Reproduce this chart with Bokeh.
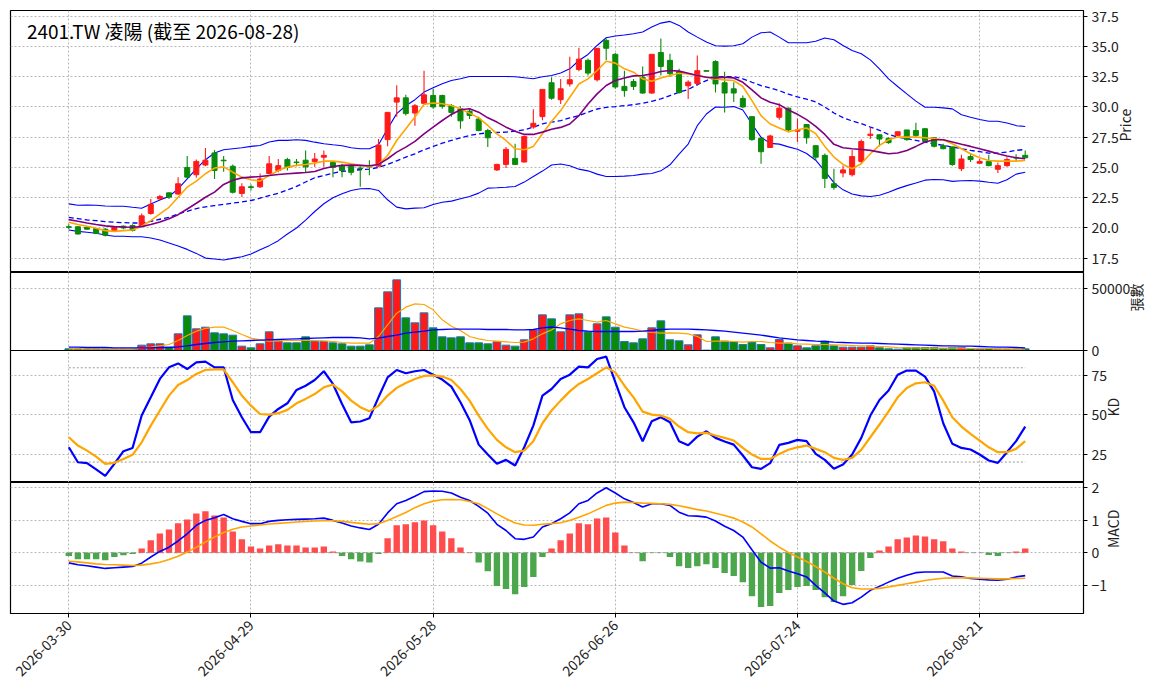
import math
from bokeh.plotting import figure
from bokeh.layouts import column
from bokeh.models import ColumnDataSource, FixedTicker, PrintfTickFormatter, Label, Range1d
from bokeh.embed import file_html
from bokeh.resources import INLINE

TITLE = "2401.TW 凌陽 (截至 2026-08-28)"
tick_pos = [0, 20, 40, 60, 80, 100]
tick_labels = ["2026-03-30", "2026-04-29", "2026-05-28", "2026-06-26", "2026-07-24", "2026-08-21"]

open_ = [20.1, 20.1, 20.05, 19.95, 19.9, 19.8, 20.15, 20.2, 20.15, 21.2,
         22.4, 22.9, 22.8, 25.0, 24.4, 25.2, 26.2, 25.6, 25.1, 22.85,
         23.4, 23.4, 24.5, 24.75, 25.65, 25.45, 25.6, 25.5, 25.85, 25.4,
         25.1, 25.1, 24.95, 25.1, 25.1, 27.3, 30.4, 30.75, 29.5, 30.3,
         30.95, 30.95, 30.1, 29.85, 29.65, 29.0, 28.05, 24.8, 25.25, 25.75,
         25.45, 28.35, 29.2, 32.0, 30.6, 31.9, 33.1, 33.85, 32.25, 35.5,
         34.35, 31.7, 32.1, 32.45, 31.15, 34.5, 33.85, 32.9, 31.75, 31.95,
         33.0, 33.75, 32.0, 31.5, 30.7, 29.2, 27.4, 26.65, 29.15, 29.9,
         28.0, 28.55, 26.8, 26.0, 23.65, 24.55, 24.4, 25.5, 27.65, 27.7,
         27.4, 27.65, 28.1, 28.05, 28.2, 27.45, 26.8, 26.7, 24.9, 25.9,
         25.35, 25.5, 24.85, 25.15, 25.82, 26.0]
high = [20.3, 20.15, 20.1, 20.0, 20.0, 20.1, 20.2, 20.3, 21.2, 22.4,
        22.75, 22.95, 24.2, 25.95, 25.65, 26.6, 26.45, 25.95, 25.25, 23.7,
        23.6, 24.5, 25.95, 25.7, 25.8, 25.7, 26.4, 26.2, 26.4, 25.5,
        25.3, 25.3, 25.1, 25.6, 27.35, 29.55, 31.8, 31.0, 30.25, 33.0,
        31.5, 31.0, 30.25, 30.05, 29.85, 29.2, 28.2, 25.3, 26.7, 26.95,
        27.65, 29.8, 31.45, 32.45, 32.3, 34.15, 34.9, 34.0, 34.85, 35.65,
        34.45, 33.0, 32.3, 33.35, 34.35, 35.65, 34.4, 33.15, 32.2, 34.25,
        33.0, 33.85, 32.9, 32.05, 30.95, 29.2, 27.5, 27.7, 30.3, 29.95,
        29.05, 28.6, 26.8, 26.15, 24.9, 25.15, 26.45, 27.3, 28.3, 27.75,
        27.5, 27.95, 28.1, 28.7, 28.25, 27.45, 26.95, 26.75, 26.05, 26.2,
        25.7, 26.05, 25.4, 25.85, 26.1, 26.4]
low = [19.9, 19.45, 19.85, 19.5, 19.3, 19.75, 19.9, 19.7, 20.1, 21.1,
       22.35, 22.4, 22.75, 24.1, 24.15, 25.1, 24.05, 24.65, 22.85, 22.55,
       23.1, 23.3, 24.45, 24.6, 24.75, 25.1, 24.6, 25.05, 25.05, 24.2,
       24.2, 24.35, 23.4, 24.35, 25.05, 26.75, 29.2, 29.3, 28.45, 30.25,
       29.85, 29.85, 29.2, 28.2, 29.0, 28.0, 26.7, 24.7, 24.95, 25.2,
       25.4, 28.2, 28.9, 30.6, 30.25, 31.7, 32.95, 32.6, 32.1, 33.85,
       31.5, 30.85, 31.4, 31.1, 31.1, 32.6, 32.5, 31.1, 30.65, 31.75,
       32.95, 31.2, 29.55, 30.4, 29.9, 27.2, 25.3, 26.6, 28.95, 27.9,
       27.1, 26.95, 25.6, 23.3, 23.15, 24.2, 24.25, 25.3, 27.35, 26.75,
       26.95, 27.6, 27.2, 27.5, 27.1, 26.65, 26.5, 25.15, 24.7, 25.45,
       25.3, 25.1, 24.55, 25.05, 25.5, 25.8]
close = [20.05, 19.5, 19.9, 19.55, 19.4, 20.05, 20.0, 19.8, 21.0, 21.95,
         22.6, 22.55, 23.65, 24.2, 25.5, 25.6, 24.75, 25.55, 22.95, 23.4,
         23.35, 24.05, 25.3, 25.15, 25.0, 25.4, 25.05, 25.7, 26.0, 25.0,
         24.75, 24.6, 24.9, 25.05, 26.85, 29.55, 30.75, 29.45, 30.1, 31.0,
         30.0, 30.05, 29.55, 28.85, 29.3, 28.05, 27.45, 25.25, 26.5, 25.25,
         27.55, 28.65, 31.45, 30.72, 31.5, 32.25, 33.95, 32.8, 34.85, 34.85,
         31.65, 31.35, 31.7, 31.15, 34.35, 33.35, 32.75, 31.2, 32.05, 33.0,
         32.95, 31.9, 31.15, 31.15, 30.0, 27.3, 26.3, 27.6, 29.9, 28.1,
         28.1, 27.45, 25.85, 24.1, 23.35, 24.8, 25.9, 27.15, 27.75, 27.35,
         27.05, 27.95, 27.3, 27.65, 27.2, 26.75, 26.55, 25.25, 25.7, 25.65,
         25.5, 25.15, 25.15, 25.65, 25.78, 25.8]
volume = [1350, 1350, 1080, 1080, 1080, 1080, 1080, 1080, 4320, 5400,
          5400, 2700, 13500, 28080, 17550, 18900, 14310, 13500, 12420, 3510,
          2160, 5400, 15120, 7560, 6210, 6210, 11070, 7560, 7290, 6210,
          5400, 3510, 3510, 4590, 34560, 47520, 57240, 26460, 22410, 30510,
          18360, 11070, 10260, 11070, 6210, 6210, 5400, 7020, 4320, 3510,
          8640, 16740, 28890, 25650, 15120, 28890, 29700, 15120, 21600, 27270,
          18900, 7290, 6210, 9450, 18360, 24030, 8640, 7830, 4590, 12690,
          300, 11070, 7560, 7020, 4860, 6480, 4860, 2160, 8910, 5940,
          3780, 2160, 3780, 7560, 3780, 2700, 2700, 2700, 3780, 2160,
          1350, 1080, 2160, 2430, 2430, 2430, 1620, 2430, 2430, 1620,
          1080, 1620, 1080, 1080, 1080, 1350]
ma5 = [20.47, 20.28, 20.14, 19.97, 19.78, 19.72, 19.78, 19.83, 20.14, 20.61,
       21.16, 21.71, 22.54, 23.37, 23.87, 24.48, 24.95, 25.05, 24.61, 24.2,
       23.98, 23.87, 24.34, 24.75, 25.03, 25.17, 25.25, 25.36, 25.52, 25.52,
       25.44, 25.3, 25.17, 25.08, 25.25, 25.99, 27.23, 28.2, 29.16, 30.21,
       30.32, 30.26, 30.12, 29.85, 29.49, 29.1, 28.47, 27.78, 27.23, 26.54,
       26.46, 26.74, 27.78, 28.8, 29.7, 30.8, 31.9, 32.32, 33.01, 33.78,
       33.62, 33.15, 32.87, 32.32, 32.13, 32.4, 32.6, 32.79, 32.73, 32.6,
       32.46, 32.32, 32.24, 32.18, 31.69, 30.52, 29.28, 28.59, 28.26, 27.95,
       28.12, 28.26, 27.79, 26.74, 25.86, 25.25, 24.89, 25.3, 26.13, 26.82,
       27.29, 27.51, 27.51, 27.51, 27.46, 27.38, 27.29, 26.96, 26.55, 26.13,
       25.8, 25.58, 25.52, 25.52, 25.52, 25.58]
ma10 = [20.69, 20.55, 20.41, 20.28, 20.17, 20.11, 20.08, 20.06, 20.11, 20.28,
        20.5, 20.77, 21.1, 21.57, 22.04, 22.54, 22.96, 23.6, 23.95, 24.14,
        24.2, 24.25, 24.34, 24.42, 24.48, 24.53, 24.58, 24.67, 24.92, 25.08,
        25.17, 25.19, 25.17, 25.14, 25.25, 25.72, 26.27, 26.68, 27.15, 27.78,
        28.33, 28.88, 29.38, 29.77, 29.85, 29.57, 29.1, 28.75, 28.33, 28.0,
        27.73, 27.73, 27.92, 28.15, 28.31, 28.59, 29.28, 30.25, 31.08, 31.77,
        32.18, 32.4, 32.57, 32.6, 32.73, 32.93, 33.01, 32.96, 32.79, 32.6,
        32.46, 32.4, 32.46, 32.4, 32.04, 31.41, 30.75, 30.39, 30.19, 29.75,
        29.39, 28.95, 28.4, 27.73, 26.91, 26.63, 26.55, 26.49, 26.41, 26.27,
        26.13, 26.19, 26.41, 26.74, 27.1, 27.29, 27.29, 27.1, 26.91, 26.74,
        26.55, 26.35, 26.13, 25.94, 25.8, 25.72]
bb_mid = [20.88, 20.77, 20.66, 20.61, 20.52, 20.47, 20.44, 20.41, 20.41, 20.55,
          20.72, 20.88, 21.16, 21.38, 21.6, 21.75, 21.85, 21.95, 22.05, 22.15,
          22.27, 22.46, 22.68, 22.87, 23.15, 23.43, 23.8, 24.15, 24.34, 24.53,
          24.67, 24.75, 24.81, 24.86, 25.0, 25.25, 25.55, 25.85, 26.13, 26.46,
          26.74, 27.01, 27.23, 27.45, 27.64, 27.78, 27.86, 27.89, 27.92, 28.0,
          28.11, 28.33, 28.61, 28.75, 28.87, 29.09, 29.28, 29.56, 29.83, 29.97,
          30.03, 30.11, 30.19, 30.3, 30.47, 30.66, 30.94, 31.22, 31.44, 31.85,
          32.18, 32.46, 32.51, 32.51, 32.32, 32.04, 31.77, 31.57, 31.35, 31.05,
          30.83, 30.64, 30.41, 30.0, 29.5, 29.12, 28.84, 28.62, 28.34, 28.07,
          27.73, 27.51, 27.38, 27.24, 27.1, 26.96, 26.82, 26.69, 26.55, 26.41,
          26.3, 26.19, 26.19, 26.27, 26.41, 26.49]
bb_up = [21.99, 21.88, 21.9, 21.88, 21.82, 21.8, 21.8, 21.71, 21.63, 21.99,
         22.32, 22.6, 23.23, 24.06, 24.89, 25.64, 26.19, 26.46, 26.55, 26.63,
         26.74, 26.82, 27.1, 27.24, 27.24, 27.29, 27.24, 27.09, 26.96, 26.87,
         26.79, 26.63, 26.54, 26.54, 26.87, 28.2, 29.45, 30.1, 30.6, 31.23,
         31.58, 31.91, 32.19, 32.33, 32.52, 32.52, 32.52, 32.52, 32.52, 32.49,
         32.41, 32.33, 32.5, 32.6, 32.8, 33.15, 33.84, 34.34, 35.08, 35.72,
         35.86, 35.94, 36.05, 36.19, 36.6, 36.93, 37.07, 36.74, 36.19, 35.77,
         35.36, 35.06, 35.03, 35.06, 35.22, 35.77, 36.13, 36.19, 35.77, 35.3,
         35.3, 35.3, 35.43, 35.7, 35.55, 35.08, 34.66, 34.39, 33.89, 33.15,
         32.32, 31.69, 31.08, 30.48, 29.98, 29.98, 29.92, 29.84, 29.35, 29.15,
         28.96, 28.82, 28.82, 28.68, 28.46, 28.38]
bb_low = [19.83, 19.72, 19.64, 19.56, 19.42, 19.31, 19.31, 19.28, 19.28, 19.17,
          19.0, 18.76, 18.51, 18.23, 17.9, 17.51, 17.43, 17.35, 17.49, 17.62,
          17.85, 18.2, 18.54, 18.95, 19.5, 20.0, 20.65, 21.36, 22.0, 22.49,
          22.82, 23.1, 23.24, 23.26, 23.1, 22.33, 21.72, 21.58, 21.64, 21.67,
          21.94, 22.13, 22.22, 22.41, 22.6, 22.88, 23.29, 23.32, 23.37, 23.43,
          23.79, 24.26, 24.7, 25.2, 25.28, 25.14, 24.86, 24.72, 24.45, 24.25,
          24.25, 24.28, 24.34, 24.45, 24.5, 24.72, 25.22, 26.1, 26.93, 28.45,
          29.42, 30.0, 29.97, 30.03, 29.75, 28.59, 27.49, 26.99, 26.93, 26.7,
          26.5, 26.15, 25.6, 24.7, 23.75, 23.15, 22.8, 22.65, 22.6, 22.7,
          22.95, 23.25, 23.5, 23.72, 23.95, 24.0, 23.98, 23.85, 23.9, 23.92,
          23.87, 23.78, 23.7, 23.98, 24.45, 24.61]
vol_ma5 = [1300, 1300, 1300, 1250, 1200, 1150, 1100, 1100, 2160, 2700,
           3780, 4860, 8100, 12150, 15660, 17820, 18900, 18900, 16200, 12960,
           9990, 8640, 7560, 7830, 8100, 8100, 8370, 8100, 7830, 7290,
           6480, 5940, 5940, 5940, 11340, 20790, 30240, 35100, 37800, 37260,
           32940, 24840, 19710, 16200, 11340, 9450, 8100, 7560, 7020, 6480,
           6750, 9450, 13500, 16700, 21600, 24300, 25650, 24300, 22950, 24300,
           21600, 18900, 17550, 15660, 14580, 14040, 14310, 14040, 13500, 11340,
           7290, 7560, 7560, 7290, 6750, 7290, 7290, 6480, 5940, 5940,
           5400, 5130, 4860, 4860, 4590, 4320, 4050, 3780, 3510, 3240,
           2970, 2430, 2160, 2160, 1890, 1890, 1890, 1890, 1890, 1620,
           1620, 1620, 1350, 1350, 1080, 1080]
vol_ma20 = [2700, 2700, 2430, 2430, 2430, 2160, 2160, 2160, 2160, 2160,
            2430, 2430, 2970, 3780, 4860, 5670, 6480, 7020, 7560, 7830,
            8100, 8370, 8640, 8910, 9180, 9450, 9720, 9990, 10260, 10530,
            10530, 10530, 10260, 9450, 9990, 11340, 12420, 14040, 14850, 15660,
            16740, 17010, 17280, 17280, 17280, 17280, 17010, 17010, 17010, 16740,
            16740, 17010, 18360, 19000, 18360, 17280, 16200, 15660, 15390, 15390,
            15390, 15390, 15390, 15660, 16200, 17010, 17280, 17280, 17280, 17010,
            16740, 16200, 15660, 14850, 14040, 13230, 12420, 11340, 10260, 9450,
            8640, 8100, 7560, 7290, 6750, 6480, 6210, 5940, 5940, 5670,
            5400, 5130, 4860, 4590, 4320, 4050, 3780, 3780, 3510, 3510,
            3240, 2970, 2700, 2700, 2430, 2160]
k_line = [29.4, 19.9, 19.3, 15.3, 11.2, 18.9, 26.9, 29.0, 49.6, 61.2,
          72.9, 80.3, 82.8, 79.2, 83.5, 83.9, 80.3, 80.3, 59.5, 48.5,
          39.0, 39.0, 48.9, 53.8, 57.4, 65.9, 68.6, 72.2, 77.8, 69.7,
          57.0, 45.3, 45.8, 47.9, 61.2, 73.9, 78.6, 76.5, 77.8, 78.6,
          75.6, 72.5, 68.0, 58.1, 46.8, 31.1, 24.8, 18.9, 21.4, 17.8,
          29.4, 43.2, 62.3, 66.5, 72.9, 75.6, 80.7, 80.3, 85.6, 87.1,
          70.8, 54.9, 45.3, 33.3, 46.0, 48.5, 45.3, 33.3, 30.7, 36.2,
          39.6, 35.4, 33.1, 31.1, 24.2, 16.7, 15.7, 19.3, 30.9, 32.2,
          34.1, 33.3, 25.2, 21.4, 15.7, 18.4, 24.8, 35.4, 49.6, 59.5,
          65.5, 75.6, 78.2, 78.2, 74.4, 65.0, 44.7, 31.6, 29.0, 28.0,
          24.8, 21.0, 19.5, 26.3, 33.3, 42.6]
d_line = [35.8, 30.5, 27.3, 23.5, 18.9, 19.5, 22.0, 24.6, 32.6, 43.2,
          52.8, 62.3, 69.1, 72.2, 76.1, 78.6, 79.0, 79.0, 70.8, 62.3,
          55.9, 50.6, 50.2, 51.1, 53.2, 57.4, 60.2, 63.3, 67.6, 69.3,
          65.0, 59.1, 54.9, 52.3, 55.9, 62.3, 67.2, 70.3, 72.9, 74.8,
          75.2, 74.4, 72.2, 66.5, 59.1, 49.6, 41.1, 34.1, 29.4, 26.3,
          27.3, 33.3, 44.7, 52.8, 59.1, 65.0, 69.7, 72.9, 76.5, 80.3,
          77.1, 68.6, 61.2, 52.1, 50.2, 49.6, 47.5, 42.6, 39.0, 38.3,
          38.6, 36.9, 35.4, 33.7, 29.0, 24.8, 22.0, 22.0, 25.2, 27.8,
          29.4, 30.5, 28.4, 26.3, 22.7, 21.4, 22.7, 27.8, 35.8, 43.9,
          52.3, 61.2, 67.2, 70.1, 70.8, 68.6, 59.1, 48.5, 42.6, 37.9,
          33.7, 29.4, 26.3, 26.3, 28.4, 33.3]
dif = [-0.31, -0.37, -0.40, -0.44, -0.48, -0.46, -0.44, -0.42, -0.32, -0.13,
       0.04, 0.17, 0.36, 0.58, 0.84, 0.99, 1.07, 1.17, 1.04, 0.96,
       0.89, 0.89, 0.96, 0.99, 1.01, 1.02, 1.03, 1.04, 1.06, 0.99,
       0.91, 0.82, 0.76, 0.71, 0.87, 1.22, 1.50, 1.60, 1.73, 1.87,
       1.89, 1.88, 1.83, 1.70, 1.60, 1.42, 1.21, 0.87, 0.68, 0.43,
       0.41, 0.48, 0.79, 0.89, 1.04, 1.22, 1.50, 1.60, 1.83, 1.99,
       1.83, 1.65, 1.54, 1.40, 1.50, 1.50, 1.45, 1.24, 1.13, 1.12,
       1.09, 0.97, 0.81, 0.68, 0.48, 0.09, -0.29, -0.47, -0.46, -0.56,
       -0.64, -0.74, -1.00, -1.23, -1.48, -1.58, -1.53, -1.36, -1.15, -1.03,
       -0.90, -0.78, -0.69, -0.61, -0.59, -0.59, -0.59, -0.71, -0.74, -0.79,
       -0.81, -0.83, -0.84, -0.81, -0.74, -0.70]
signal = [-0.26, -0.28, -0.31, -0.34, -0.36, -0.37, -0.38, -0.39, -0.38, -0.34,
          -0.29, -0.21, -0.11, 0.02, 0.17, 0.33, 0.48, 0.62, 0.72, 0.79,
          0.82, 0.85, 0.88, 0.90, 0.92, 0.94, 0.96, 0.97, 0.98, 0.98,
          0.96, 0.93, 0.90, 0.87, 0.89, 0.99, 1.11, 1.23, 1.38, 1.50,
          1.58, 1.62, 1.63, 1.62, 1.57, 1.50, 1.35, 1.19, 1.04, 0.91,
          0.85, 0.84, 0.87, 0.89, 0.92, 0.99, 1.09, 1.19, 1.32, 1.45,
          1.52, 1.55, 1.54, 1.52, 1.51, 1.50, 1.48, 1.44, 1.38, 1.32,
          1.28, 1.21, 1.14, 1.06, 0.94, 0.79, 0.58, 0.36, 0.17, 0.01,
          -0.13, -0.27, -0.42, -0.59, -0.78, -0.95, -1.07, -1.11, -1.11, -1.09,
          -1.05, -1.00, -0.95, -0.90, -0.85, -0.81, -0.78, -0.77, -0.77, -0.77,
          -0.78, -0.79, -0.80, -0.80, -0.79, -0.78]
hist = [-0.10, -0.20, -0.20, -0.20, -0.23, -0.13, -0.08, -0.04, 0.13, 0.38,
        0.59, 0.71, 0.90, 1.02, 1.20, 1.27, 1.14, 1.08, 0.65, 0.41,
        0.19, 0.13, 0.22, 0.26, 0.22, 0.22, 0.16, 0.16, 0.19, 0.04,
        -0.10, -0.20, -0.27, -0.30, -0.04, 0.44, 0.84, 0.87, 0.93, 0.99,
        0.84, 0.65, 0.44, 0.16, 0.01, -0.30, -0.57, -1.02, -1.11, -1.27,
        -1.05, -0.74, -0.13, 0.13, 0.38, 0.59, 0.90, 0.87, 1.05, 1.08,
        0.62, 0.22, 0.01, -0.26, -0.01, -0.01, -0.13, -0.41, -0.47, -0.41,
        -0.35, -0.47, -0.62, -0.71, -0.90, -1.33, -1.66, -1.63, -1.23, -1.14,
        -1.05, -1.02, -1.14, -1.36, -1.51, -1.33, -0.99, -0.56, -0.16, 0.07,
        0.19, 0.41, 0.47, 0.53, 0.50, 0.41, 0.35, 0.13, 0.04, 0.00,
        0.00, -0.07, -0.10, -0.01, 0.04, 0.13]

FONT = "Noto Sans CJK TC"
TICK_SIZE = "14px"
n = len(close)
idx = list(range(n))
W = 1163
xr = Range1d(-6.4, 111.4)

RED = "#ff1a1a"
GREEN = "#0a8a0a"
OV = 10  # px by which a panel's canvas reaches under its neighbour, so edge tick labels fit


def style(p):
    p.outline_line_color = "black"
    p.outline_line_width = 1.2
    p.background_fill_color = "white"
    for ax in p.yaxis:
        ax.major_label_text_font = FONT
        ax.major_label_text_font_size = TICK_SIZE
        ax.major_label_text_color = "#222222"
        ax.axis_label_text_font = FONT
        ax.axis_label_text_font_size = "14px"
        ax.axis_label_text_font_style = "normal"
        ax.axis_label_text_color = "#222222"
        ax.axis_label_standoff = 3
        ax.major_label_standoff = 4
        ax.major_tick_out = 4
        ax.major_tick_in = 0
        ax.minor_tick_out = 0
        ax.minor_tick_in = 0
        ax.axis_line_color = "black"
        ax.axis_label_orientation = math.pi / 2
    for g in list(p.xgrid) + list(p.ygrid):
        g.grid_line_color = "#b0b0b0"
        g.grid_line_dash = "2 2"
        g.grid_line_width = 0.9
    p.xgrid.ticker = FixedTicker(ticks=tick_pos)


def make(height, yr, top=0, bottom=0, xaxis=False):
    return figure(width=W, height=height, x_range=xr, y_range=yr,
                  y_axis_location="right",
                  x_axis_location="below" if xaxis else None,
                  output_backend="svg", toolbar_location=None,
                  min_border_left=10, min_border_right=80,
                  min_border_top=top, min_border_bottom=bottom)


# ---- price panel ----
p1 = make(272, Range1d(16.32, 37.97), top=10)
cs = ColumnDataSource(dict(
    x=idx, o=open_, h=high, l=low, c=close,
    top=[max(a, b) for a, b in zip(open_, close)],
    bot=[min(a, b) for a, b in zip(open_, close)],
    col=[RED if c >= o else GREEN for o, c in zip(open_, close)],
))
p1.line(idx, bb_up, color="blue", line_width=1.1)
p1.line(idx, bb_low, color="blue", line_width=1.1)
p1.line(idx, bb_mid, color="blue", line_width=1.3, line_dash="5 3")
p1.segment(x0="x", y0="l", x1="x", y1="h", color="col", line_width=1.1, source=cs)
p1.vbar(x="x", width=0.55, top="top", bottom="bot", fill_color="col", line_color="col", source=cs)
p1.line(idx, ma5, color="orange", line_width=1.6)
p1.line(idx, ma10, color="purple", line_width=1.6)
p1.yaxis.ticker = FixedTicker(ticks=[17.5, 20.0, 22.5, 25.0, 27.5, 30.0, 32.5, 35.0, 37.5])
p1.yaxis.formatter = PrintfTickFormatter(format="%.1f")
p1.yaxis.axis_label = "Price"
p1.add_layout(Label(x=-4.6, y=36.3, text=TITLE, text_font=FONT, text_font_size="19px",
                    text_baseline="middle", text_color="black"))
p1.border_fill_color = "white"
style(p1)

# ---- volume panel (canvas reaches OV px below its frame for the "0" label) ----
p2 = make(78 + OV, Range1d(0, 63200), bottom=OV)
vs = ColumnDataSource(dict(x=idx, v=volume,
                           col=[RED if c >= o else GREEN for o, c in zip(open_, close)]))
p2.vbar(x="x", width=0.85, top="v", bottom=0, fill_color="col", line_color="#1f77b4",
        line_width=1, source=vs)
p2.line(idx, vol_ma5, color="orange", line_width=1.2)
p2.line(idx, vol_ma20, color="blue", line_width=1.4)
p2.yaxis.ticker = FixedTicker(ticks=[0, 50000])
p2.yaxis.formatter = PrintfTickFormatter(format="%d")
p2.yaxis.axis_label = "張數"
p2.border_fill_color = "white"
style(p2)

# ---- KD panel (pulled up over the volume panel's bottom border) ----
p3 = make(132, Range1d(7.0, 91.0))
p3.margin = (-OV, 0, 0, 0)
p3.border_fill_alpha = 0
p3.line(idx, [80] * n, color="#999999", line_width=1, line_dash="2 2")
p3.line(idx, [20] * n, color="#999999", line_width=1, line_dash="2 2")
p3.line(idx, k_line, color="blue", line_width=2.2)
p3.line(idx, d_line, color="orange", line_width=2.2)
p3.yaxis.ticker = FixedTicker(ticks=[25, 50, 75])
p3.yaxis.formatter = PrintfTickFormatter(format="%d")
p3.yaxis.axis_label = "KD"
style(p3)

# ---- MACD panel (canvas reaches OV px above its frame for the "2" label) ----
p4 = make(OV + 131 + 80, Range1d(-1.86, 2.15), top=OV, bottom=80, xaxis=True)
p4.margin = (-OV, 0, 0, 0)
p4.border_fill_alpha = 0
hs = ColumnDataSource(dict(x=idx, h=hist,
                           col=["#ff4c4c" if v >= 0 else "#4ca64c" for v in hist]))
p4.line(idx, [0] * n, color="#999999", line_width=1, line_dash="4 3")
p4.vbar(x="x", width=0.7, top="h", bottom=0, fill_color="col", line_color=None, source=hs)
p4.line(idx, dif, color="blue", line_width=1.6)
p4.line(idx, signal, color="orange", line_width=1.6)
p4.yaxis.ticker = FixedTicker(ticks=[-1, 0, 1, 2])
p4.yaxis.major_label_overrides = {-1: "\u22121", 0: "0", 1: "1", 2: "2"}
p4.yaxis.axis_label = "MACD"
ax = p4.xaxis[0]
ax.ticker = FixedTicker(ticks=tick_pos)
ax.major_label_overrides = {t: s for t, s in zip(tick_pos, tick_labels)}
ax.major_label_orientation = math.pi / 4
ax.major_label_text_font = FONT
ax.major_label_text_font_size = TICK_SIZE
ax.major_label_text_color = "#222222"
ax.major_tick_out = 4
ax.major_tick_in = 0
ax.minor_tick_out = 0
ax.minor_tick_in = 0
ax.axis_line_color = "black"
style(p4)

layout = column(p1, p2, p3, p4, spacing=0)
open("out.html", "w").write(file_html(layout, INLINE))
